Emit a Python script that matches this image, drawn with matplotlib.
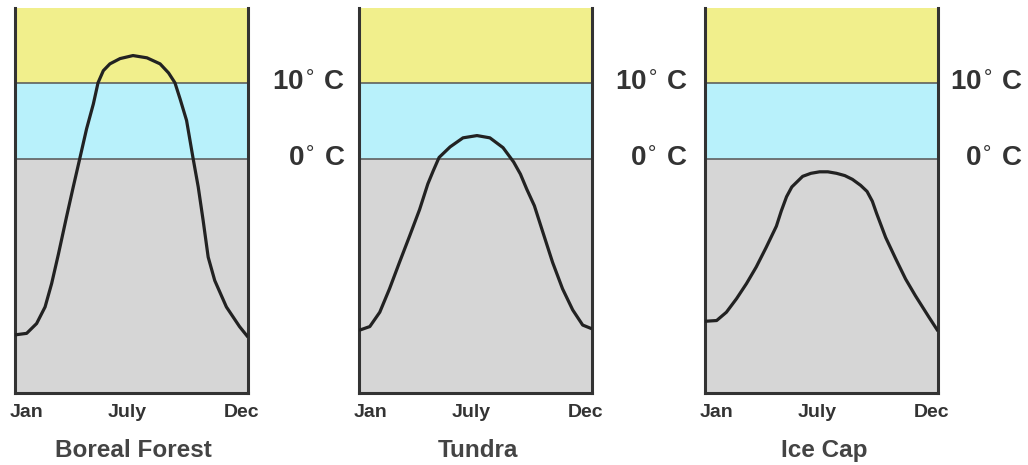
import matplotlib
matplotlib.use("Agg")
import matplotlib.pyplot as plt

plt.rcParams["font.family"] = ["Liberation Sans", "DejaVu Sans"]

# monthly position (Jan = 1, Dec = 12) and temperature (deg C)
boreal_month = [1.00, 1.55, 2.02, 2.42, 2.73, 3.05, 3.43, 3.75, 4.07, 4.38, 4.70, 4.92, 5.17, 5.48, 5.96,
                6.57, 7.23, 7.85, 8.25, 8.55, 8.80, 9.10, 9.40, 9.65, 9.88, 10.12, 10.43, 10.98, 11.60, 12.00]
boreal_temp = [-23.3, -23.1, -21.8, -19.6, -16.5, -12.6, -7.7, -3.7, 0.2, 4.0, 7.3, 10.1, 11.7, 12.6, 13.3,
               13.7, 13.4, 12.6, 11.4, 10.1, 7.9, 5.1, 0.2, -3.7, -8.1, -13.0, -16.1, -19.6, -22.2, -23.6]

tundra_month = [1.00, 1.51, 1.98, 2.44, 2.91, 3.39, 3.86, 4.25, 4.50, 4.78, 5.30, 5.91, 6.57, 7.18,
                7.80, 8.30, 8.62, 8.92, 9.28, 9.68, 10.14, 10.61, 11.09, 11.56, 12.00]
tundra_temp = [-22.7, -22.2, -20.3, -17.2, -13.7, -10.2, -6.7, -3.3, -1.6, 0.2, 1.6, 2.8, 3.1, 2.8,
               1.5, -0.4, -2.0, -4.0, -6.2, -9.7, -13.7, -17.2, -20.0, -22.0, -22.5]

icecap_month = [1.00, 1.55, 2.01, 2.49, 2.96, 3.42, 3.89, 4.37, 4.60, 4.85, 5.10, 5.61, 6.00, 6.41, 6.80,
                7.21, 7.60, 7.96, 8.35, 8.65, 8.90, 9.10, 9.53, 10.00, 10.47, 10.93, 11.56, 12.00]
icecap_temp = [-21.5, -21.4, -20.3, -18.5, -16.5, -14.3, -11.7, -8.9, -6.9, -5.0, -3.7, -2.3, -1.9, -1.7, -1.7,
               -1.9, -2.2, -2.7, -3.5, -4.3, -5.6, -7.2, -10.4, -13.2, -15.9, -18.1, -20.9, -22.8]

biomes = ["Boreal Forest", "Tundra", "Ice Cap"]
months = [boreal_month, tundra_month, icecap_month]
temps = [boreal_temp, tundra_temp, icecap_temp]

tick_pos = [1.55, 6.3, 11.7]
tick_labels = ["Jan", "July", "Dec"]
band_edges = [-31, 0, 10, 20]
band_colors = ["#d6d6d6", "#b8f1fb", "#f1ef8c"]
temp_labels = [(10, r"10$^{\circ}$ C"), (0, r"0$^{\circ}$ C")]

W, H = 1028, 465
fig = plt.figure(figsize=(W / 100, H / 100), dpi=100)
panel_left = [15, 359, 705]
label_offset = [70, 69, 61]  # points from right spine to right edge of label

for i in range(3):
    ax = fig.add_axes([panel_left[i] / W, 1 - 393 / H, 233 / W, 385 / H])
    for lo, hi, c in zip(band_edges[:-1], band_edges[1:], band_colors):
        ax.axhspan(lo, hi, color=c, lw=0, zorder=0)
    for y in band_edges[1:-1]:
        ax.axhline(y, color="#555555", lw=1.1, zorder=1)
    ax.plot(months[i], temps[i], color="#222222", lw=2.3,
            solid_joinstyle="round", solid_capstyle="butt", zorder=3)

    ax.set_xlim(1, 12)
    ax.set_ylim(band_edges[0], band_edges[-1])
    ax.set_yticks([])
    ax.set_xticks(tick_pos)
    ax.set_xticklabels(tick_labels, fontsize=14, fontweight="bold", color="#333333")
    ax.tick_params(axis="x", length=0, pad=8)
    ax.spines["top"].set_visible(False)
    for s in ["left", "right", "bottom"]:
        ax.spines[s].set_linewidth(2.2)
        ax.spines[s].set_color("#333333")

    for val, txt in temp_labels:
        ax.annotate(txt, xy=(1, val), xycoords=("axes fraction", "data"),
                    xytext=(label_offset[i], 0), textcoords="offset points",
                    ha="right", va="center", fontsize=20, fontweight="bold",
                    color="#333333", annotation_clip=False)

    ax.text(0.51, -57 / 385, biomes[i], transform=ax.transAxes, ha="center", va="center",
            fontsize=17.5, fontweight="bold", color="#444444")

fig.savefig("out.png", dpi=100, facecolor="white")
